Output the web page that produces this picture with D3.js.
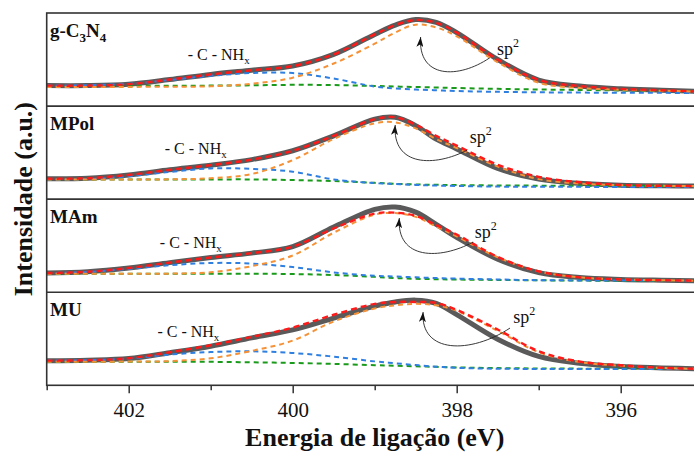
<!DOCTYPE html>
<meta charset="utf-8">
<style>
  body { margin: 0; background: #fff; }
  text { font-family: "Liberation Serif", "Times New Roman", serif; fill: #111; }
</style>
<script src="https://d3js.org/d3.v7.min.js"></script>
<div id="chart"></div>
<script>
  // binding energy grid (eV), shared by every curve
  var energy = [403, 402.5, 402, 401.5, 401, 400.5, 400, 399.5, 399, 398.75, 398.5, 398.25, 398, 397.5, 397, 396.5, 396, 395.5, 395]

  var samples = ["g-C3N4", "MPol", "MAm", "MU"]

  // measured spectrum (thick grey line), one row per sample
  var envelope = [
    [22, 22, 23.5, 28.5, 34, 38.5, 43, 55.5, 77, 87, 93, 90, 79, 50, 28, 21.5, 18.5, 17, 15.5],
    [22, 22.5, 26, 31.5, 36.5, 42.5, 52, 68, 86, 88, 79, 64.5, 54, 33, 21.5, 17, 15, 14.3, 14],
    [20.6, 22, 26, 31.8, 37.3, 42, 49, 70, 89, 91.5, 86, 73, 59, 35.5, 21, 15.8, 13.8, 12.9, 12.3],
    [26.5, 27, 28.7, 35, 42, 51, 59.5, 72.2, 85, 89.5, 91.5, 88, 76, 49.5, 31, 23.7, 20.2, 18.7, 17.5]
  ]
  // fitted sum (red dashed)
  var fitSum = [
    [22, 22, 23.5, 28.5, 34, 38.5, 43, 55.5, 77, 87, 92.5, 89.5, 79, 50, 28, 21.5, 18.5, 17, 15.5],
    [22, 22.5, 26, 31.5, 36.5, 42.5, 52, 68, 86, 88, 80, 68, 57.5, 37, 24, 18.2, 15.3, 14.3, 14],
    [20.6, 22, 26, 31.8, 37.3, 42, 49, 68.5, 84.5, 85.5, 82, 72, 62, 38, 22.4, 16, 13.8, 12.9, 12.3],
    [26.5, 27, 29, 35.5, 43, 52, 62, 75.8, 87.5, 89.5, 89.5, 88.5, 81, 60, 36.5, 25.5, 21.5, 18.8, 17.5]
  ]
  // sp2 component (orange dashed)
  var sp2 = [
    [20.6, 20.6, 20.6, 20.8, 21.2, 24, 30.5, 45.7, 67, 79, 87.5, 84.5, 75, 47, 25, 19.5, 17.5, 16.5, 15.5],
    [21, 21, 21, 21.3, 22.5, 27, 42, 64.7, 81.5, 82.5, 76, 64.5, 55, 35, 21.5, 16.8, 15, 14.3, 14],
    [19.9, 19.9, 19.9, 20, 21.5, 28, 39.4, 64, 83.3, 85, 81, 70.5, 60, 37.5, 22.4, 16, 13.8, 12.9, 12.3],
    [25.4, 25.4, 25.5, 26, 29, 37, 48, 68.6, 82.5, 86, 87.5, 86, 80, 58.5, 35.5, 25, 21, 18.7, 17.5]
  ]
  // -C-NHx component (blue dashed)
  var cnhx = [
    [22, 22.5, 24, 28, 32.5, 35.5, 35.5, 29.6, 21, 19, 17.8, 17, 16.2, 15.3, 14.8, 14.5, 14.3, 14.2, 14],
    [21, 21.5, 24.5, 29.2, 33, 32.5, 29.5, 21.2, 17.2, 16.2, 15.3, 14.6, 14.2, 13.5, 13.3, 13.2, 13.1, 13, 13],
    [20.6, 21.8, 25, 29, 31.4, 30.8, 27, 21.3, 17.6, 16.9, 16, 15.2, 14.6, 13.7, 12.9, 12.7, 12.6, 12.5, 12.4],
    [26.5, 27, 28.7, 33, 35.7, 36.5, 34.7, 30.8, 25.7, 23.7, 21.7, 20, 18.8, 17.8, 17.6, 17.6, 17.6, 17.6, 17.6]
  ]
  // background (green dashed)
  var background = [
    [21.7, 21.7, 21.7, 21.8, 22, 22.3, 22.8, 22.6, 21.6, 21, 20.5, 20, 19.4, 18.5, 17.8, 17.3, 16.8, 16.3, 15.8],
    [21.2, 21.2, 21.2, 21.2, 21.2, 21.2, 20.5, 19.4, 17.5, 16.5, 15.8, 15.4, 15.1, 14.7, 14.5, 14.3, 14.1, 14, 14],
    [19.9, 19.9, 19.9, 19.9, 19.9, 19.9, 19.5, 18.5, 16.5, 15.3, 14.4, 14, 13.6, 13.2, 12.8, 12.5, 12.4, 12.4, 12.4],
    [25.4, 25.4, 25.4, 25.4, 25.2, 24.7, 24, 23, 21.6, 21, 20.4, 19.8, 19.2, 18.5, 18.1, 17.9, 17.7, 17.6, 17.5]
  ]

  var xTicks = [403, 402, 401, 400, 399, 398, 397, 396, 395]

  // annotation anchors in data units: [energy, intensity]
  var nhxPos  = [[401.28, 49.5], [401.56, 48.5], [401.62, 47.5], [401.65, 51.9]]
  var sp2Pos  = [[397.51, 54.9], [397.84, 60.3], [397.78, 58.3], [397.31, 66.9]]
  var arrowFrom = [[397.6, 51.7], [397.87, 52.8], [397.8, 53.9], [397.35, 61.5]]
  var arrowTo   = [[398.44, 74.2], [398.75, 79.7], [398.70, 79.7], [398.41, 78.7]]

  var width = 694, height = 452
  var plotLeft = 46.7, plotTop = 13, plotBottom = 385.3
  var svg = d3.select("#chart").append("svg")
      .attr("width", width)
      .attr("height", height)

  var x = d3.scaleLinear().domain([403, 395]).range([plotLeft, plotLeft + 8 * 82])
  var band = d3.scaleBand().domain(d3.range(4)).range([plotTop, plotBottom])

  var defs = svg.append("defs")
  defs.append("clipPath").attr("id", "plot")
    .append("rect").attr("x", plotLeft).attr("y", plotTop)
    .attr("width", width - plotLeft).attr("height", plotBottom - plotTop)

  defs.append("marker")
      .attr("id", "head")
      .attr("markerUnits", "userSpaceOnUse")
      .attr("markerWidth", 11).attr("markerHeight", 7)
      .attr("refX", 10).attr("refY", 3.5)
      .attr("orient", "auto")
    .append("path")
      .attr("d", "M0,0 L10,3.5 L0,7 L2.5,3.5 Z")
      .attr("fill", "#111")

  var series = [
    {rows: envelope,   color: "#5a5a5a", w: 5,   dash: null},
    {rows: background, color: "#1a9a1a", w: 2,   dash: "5,4"},
    {rows: cnhx,       color: "#2f7fe0", w: 2,   dash: "5,4"},
    {rows: sp2,        color: "#f59238", w: 2,   dash: "5,4"},
    {rows: fitSum,     color: "#ff1a1a", w: 2.4, dash: "6,4"}
  ]

  samples.forEach(function(name, i) {
    var y = d3.scaleLinear().domain([0, 100]).range([band(i) + band.bandwidth(), band(i)])
    var line = d3.line()
      .x(function(d, k) { return x(energy[k]) })
      .y(function(d) { return y(d) })
      .curve(d3.curveCatmullRom.alpha(0.5))

    var g = svg.append("g").attr("clip-path", "url(#plot)")
    series.forEach(function(s) {
      g.append("path")
        .attr("d", line(s.rows[i]))
        .attr("fill", "none")
        .attr("stroke", s.color)
        .attr("stroke-width", s.w)
        .attr("stroke-dasharray", s.dash)
        .attr("stroke-linecap", s.dash ? "butt" : "round")
    })

    // sample name
    var lab = svg.append("text")
      .attr("x", 50)
      .attr("y", band(i) + 24)
      .style("font-size", "19px")
      .style("font-weight", "bold")
    if (name == "g-C3N4") {
      lab.append("tspan").text("g-C")
      lab.append("tspan").text("3").attr("dy", 5).style("font-size", "13px")
      lab.append("tspan").text("N").attr("dy", -5)
      lab.append("tspan").text("4").attr("dy", 5).style("font-size", "13px")
    } else {
      lab.text(name)
    }

    // -C-NHx label
    var t = svg.append("text")
      .attr("x", x(nhxPos[i][0]))
      .attr("y", y(nhxPos[i][1]))
      .style("font-size", "16px")
    t.append("tspan").text("- C - NH")
    t.append("tspan").text("x").attr("dy", 4).style("font-size", "11px")

    // sp2 label
    var s2 = svg.append("text")
      .attr("x", x(sp2Pos[i][0]))
      .attr("y", y(sp2Pos[i][1]))
      .style("font-size", "18px")
    s2.append("tspan").text("sp")
    s2.append("tspan").text("2").attr("dy", -8).style("font-size", "12px")

    // curved arrow to the sp2 peak
    var x0 = x(arrowFrom[i][0]), y0 = y(arrowFrom[i][1])
    var x1 = x(arrowTo[i][0]), y1 = y(arrowTo[i][1])
    var dx = x0 - x1
    var p = d3.path()
    p.moveTo(x0, y0)
    p.bezierCurveTo(x0 - 0.45 * dx, y1 + 42, x1 - 3, y1 + 42, x1, y1)
    svg.append("path")
      .attr("d", p.toString())
      .attr("fill", "none")
      .attr("stroke", "#222")
      .attr("stroke-width", 0.9)
      .attr("marker-end", "url(#head)")
  })

  // frame and panel separators
  svg.append("rect")
    .attr("x", plotLeft).attr("y", plotTop)
    .attr("width", x(395) - plotLeft).attr("height", plotBottom - plotTop)
    .attr("fill", "none").attr("stroke", "#333").attr("stroke-width", 1.6)
  d3.range(1, 4).forEach(function(i) {
    svg.append("line")
      .attr("x1", plotLeft).attr("x2", x(395))
      .attr("y1", band(i)).attr("y2", band(i))
      .attr("stroke", "#333").attr("stroke-width", 1.6)
  })

  // x axis
  var axis = svg.append("g")
    .attr("transform", "translate(0," + plotBottom + ")")
    .call(d3.axisBottom(x).tickValues(xTicks).tickSize(8).tickPadding(9)
      .tickFormat(function(d) { return d % 2 == 0 ? d : "" }))
  axis.select(".domain").remove()
  axis.selectAll(".tick line")
    .attr("stroke", "#333").attr("stroke-width", 1.5)
    .attr("y2", function(d) { return d % 2 == 0 ? 8 : 5 })
  axis.selectAll(".tick text")
    .style("font-family", "'Liberation Serif', 'Times New Roman', serif")
    .style("font-size", "21px")
    .attr("fill", "#111")

  svg.append("text")
    .attr("x", (plotLeft + x(395)) / 2)
    .attr("y", 446)
    .attr("text-anchor", "middle")
    .style("font-size", "26px")
    .style("font-weight", "bold")
    .text("Energia de ligação (eV)")

  svg.append("text")
    .attr("transform", "translate(32," + (plotTop + plotBottom) / 2 + ") rotate(-90)")
    .attr("text-anchor", "middle")
    .style("font-size", "26px")
    .style("font-weight", "bold")
    .text("Intensidade (a.u.)")
</script>
